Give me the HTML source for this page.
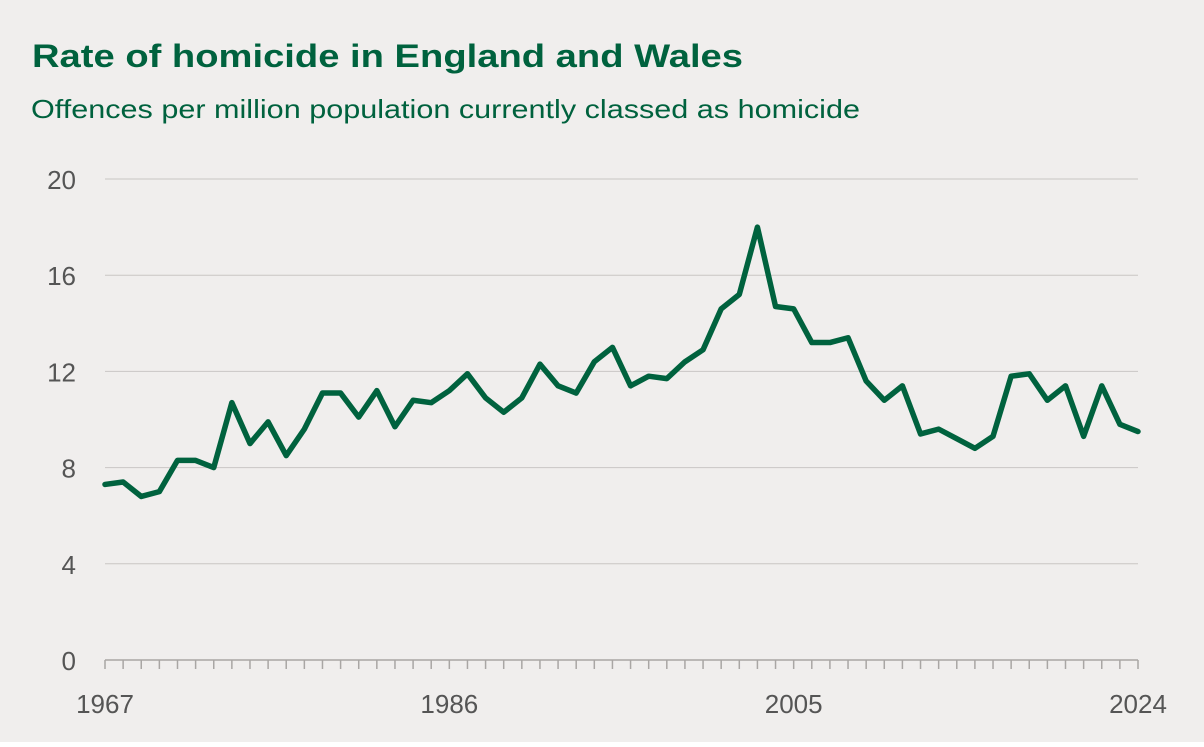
<!DOCTYPE html>
<html><head><meta charset="utf-8"><style>
body{margin:0;background:#fff}
#wrap{width:1204px;height:742px;background:#f0eeed;position:relative;font-family:"Liberation Sans",sans-serif}
</style></head><body>
<div id="wrap">
<svg id="c" width="1204" height="742">
<text x="32" y="67" font-size="32" font-weight="bold" fill="#00623e" textLength="711" lengthAdjust="spacingAndGlyphs">Rate of homicide in England and Wales</text>
<text x="31" y="118" font-size="26" fill="#00623e" textLength="829" lengthAdjust="spacingAndGlyphs">Offences per million population currently classed as homicide</text>
<g id="grid"></g><g id="axis"></g><g id="line"></g>
</svg></div>
<script>
const years=[];for(let y=1967;y<=2024;y++)years.push(y);
const rates=[7.3,7.4,6.8,7.0,8.3,8.3,8.0,10.7,9.0,9.9,8.5,9.6,11.1,11.1,10.1,11.2,9.7,10.8,10.7,11.2,11.9,10.9,10.3,10.9,12.3,11.4,11.1,12.4,13.0,11.4,11.8,11.7,12.4,12.9,14.6,15.2,18.0,14.7,14.6,13.2,13.2,13.4,11.6,10.8,11.4,9.4,9.6,9.2,8.8,9.3,11.8,11.9,10.8,11.4,9.3,11.4,9.8,9.5];
const yTicks=[0,4,8,12,16,20];
const xLabels=[1967,1986,2005,2024];
const NS="http://www.w3.org/2000/svg";
const x0=105,x1=1138,y0=660,y1=179;
const X=v=>x0+(v-1967)/(2024-1967)*(x1-x0);
const Y=v=>y0-v/20*(y0-y1);
function mk(t,a,p){const e=document.createElementNS(NS,t);for(const k in a)e.setAttribute(k,a[k]);p.appendChild(e);return e;}
const g=document.getElementById('grid'),ax=document.getElementById('axis'),ln=document.getElementById('line');
yTicks.forEach(v=>{
 if(v>0){const l=mk('line',{x1:x0,x2:x1,y1:Y(v),y2:Y(v),stroke:'#c9c6c4','stroke-width':1},g);
 }
 const t=mk('text',{x:76,y:Y(v)+10,'font-size':26,fill:'#555','text-anchor':'end'},g);t.textContent=v;
 
});
const base=mk('line',{x1:x0,x2:x1,y1:y0,y2:y0,stroke:'#a9a6a4','stroke-width':1.5},ax);

years.forEach(y=>{const l=mk('line',{x1:X(y),x2:X(y),y1:y0,y2:y0+9,stroke:'#a9a6a4','stroke-width':1.5},ax);
 });
xLabels.forEach(y=>{const t=mk('text',{x:X(y),y:713,'font-size':26,fill:'#555','text-anchor':'middle'},ax);t.textContent=y;
 });
const p=mk('polyline',{points:rates.map((r,i)=>X(years[i])+','+Y(r)).join(' '),fill:'none',stroke:'#00623e','stroke-width':5.5,'stroke-linejoin':'round','stroke-linecap':'round'},ln);

</script></body></html>
